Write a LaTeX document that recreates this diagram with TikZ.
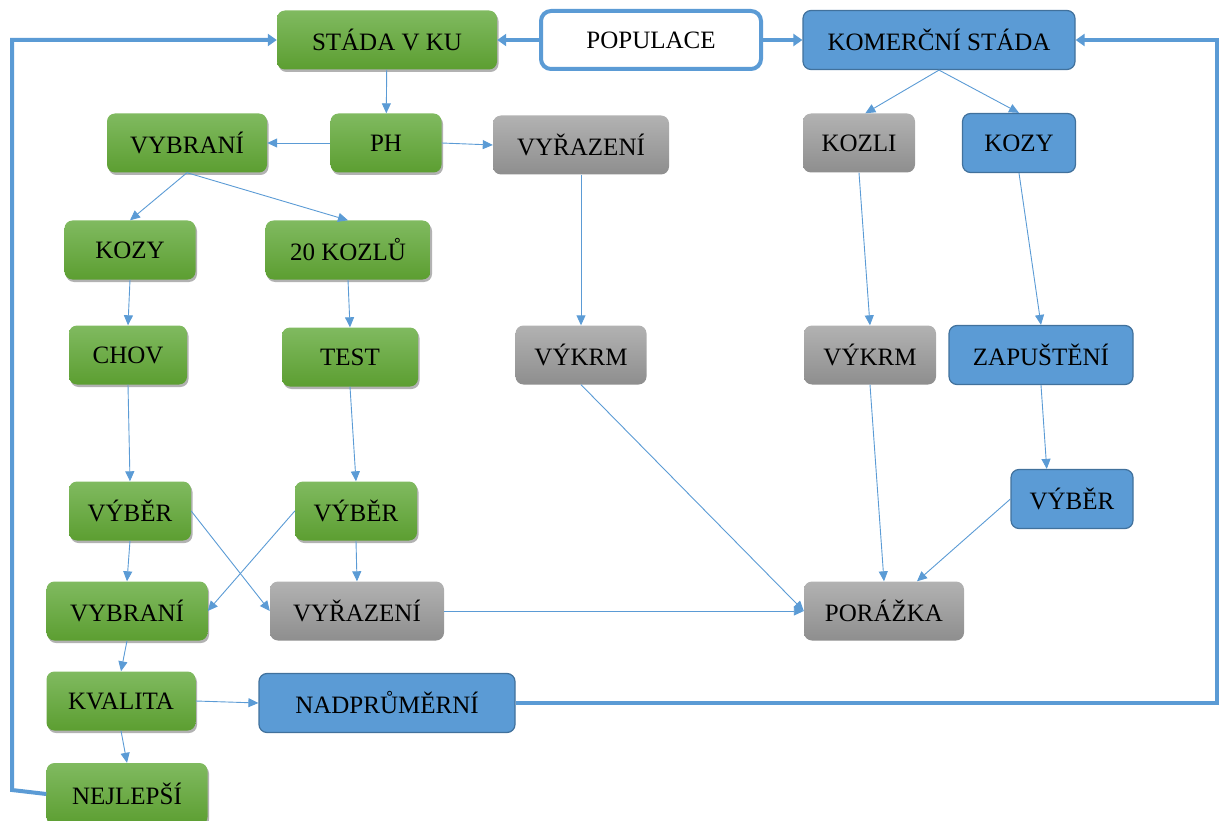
\documentclass[tikz,border=0pt]{standalone}
\usepackage{fontspec}
\setmainfont{Liberation Serif}
\usetikzlibrary{arrows.meta,shadows,calc}
\definecolor{lblue}{HTML}{5B9BD5}
\definecolor{dblue}{HTML}{41719C}
\definecolor{gtop}{HTML}{80BA60}
\definecolor{gbot}{HTML}{5C9E31}
\definecolor{ytop}{HTML}{B2B2B2}
\definecolor{ybot}{HTML}{8E8E8E}
\tikzset{
  base/.style={rounded corners=8pt, inner sep=0pt, minimum height=59pt, align=center,
    font=\fontsize{25}{29}\selectfont, text=black},
  gbox/.style={base, top color=gtop, bottom color=gbot, draw=none,
    drop shadow={shadow xshift=1.5pt, shadow yshift=-2.5pt, opacity=0.3, fill=black}},
  ybox/.style={base, top color=ytop, bottom color=ybot, draw=none},
  bbox/.style={base, fill=lblue, draw=dblue, line width=1.2pt},
  wbox/.style={base, fill=white, draw=lblue, line width=4pt, rounded corners=10pt},
  thin/.style={draw=lblue, line width=0.9pt, -{Triangle[length=10pt,width=9pt]}},
  thick/.style={draw=lblue, line width=4pt, -{Triangle[length=9pt,width=12pt]}}
}
\begin{document}
\begin{tikzpicture}[x=1pt,y=-1pt]
\useasboundingbox (0,0) rectangle (1226,821);
% nodes
\node[gbox, minimum width=220pt] (stada) at (387,40) {STÁDA V KU};
\node[wbox, minimum width=220pt, minimum height=58pt] (pop) at (651,40) {POPULACE};
\node[bbox, minimum width=272pt] (kom) at (939,40) {KOMERČNÍ STÁDA};
\node[gbox, minimum width=160pt] (vyb1) at (187,143) {VYBRANÍ};
\node[gbox, minimum width=111pt] (ph) at (386,143) {PH};
\node[ybox, minimum width=176pt] (vyr1) at (581,145) {VYŘAZENÍ};
\node[ybox, minimum width=112pt] (kozli) at (859,143) {KOZLI};
\node[bbox, minimum width=113pt] (kozyR) at (1019,143) {KOZY};
\node[gbox, minimum width=131pt] (kozyL) at (130,250) {KOZY};
\node[gbox, minimum width=165pt] (k20) at (348,250) {20 KOZLŮ};
\node[gbox, minimum width=118pt] (chov) at (128,355) {CHOV};
\node[gbox, minimum width=136pt] (test) at (350,357) {TEST};
\node[ybox, minimum width=131pt] (vykrm1) at (581,355) {VÝKRM};
\node[ybox, minimum width=132pt] (vykrm2) at (870,355) {VÝKRM};
\node[bbox, minimum width=184pt] (zap) at (1041,355) {ZAPUŠTĚNÍ};
\node[gbox, minimum width=122pt] (vyberL) at (130,511) {VÝBĚR};
\node[gbox, minimum width=122pt] (vyberM) at (356,511) {VÝBĚR};
\node[bbox, minimum width=122pt] (vyberR) at (1072,499) {VÝBĚR};
\node[gbox, minimum width=161pt] (vyb2) at (127,611) {VYBRANÍ};
\node[ybox, minimum width=174pt] (vyr2) at (357,611) {VYŘAZENÍ};
\node[ybox, minimum width=160pt] (por) at (884,611) {PORÁŽKA};
\node[gbox, minimum width=149pt] (kval) at (121,701) {KVALITA};
\node[bbox, minimum width=256pt] (nad) at (387,703) {NADPRŮMĚRNÍ};
\node[gbox, minimum width=161pt, minimum height=62pt] (nej) at (127,794) {NEJLEPŠÍ};
% loop corners
\coordinate (lb) at (12,790);
\coordinate (lt) at (12,40);
\coordinate (rb) at (1217,703);
\coordinate (rt) at (1217,40);
% thick connectors
\draw[thick] (pop) -- (stada);
\draw[thick] (pop) -- (kom);
\draw[thick] (nej.west) -- (lb) -- (lt) -- (stada.west);
\draw[thick] (nad.east) -- (rb) -- (rt) -- (kom.east);
% thin connectors
\draw[thin] (stada) -- (ph);
\draw[thin] (ph) -- (vyb1);
\draw[thin] (ph.east) -- (vyr1.west);
\draw[thin] (vyb1.south) -- (kozyL.north);
\draw[thin] (vyb1.south) -- (k20.north);
\draw[thin] (kozyL.south) -- (chov.north);
\draw[thin] (k20.south) -- (test.north);
\draw[thin] (chov.south) -- (vyberL.north);
\draw[thin] (test.south) -- (vyberM.north);
\draw[thin] (vyberL.south) -- (vyb2.north);
\draw[thin] (vyberL.east) -- (vyr2.west);
\draw[thin] (vyberM.west) -- (vyb2.east);
\draw[thin] (vyberM.south) -- (vyr2.north);
\draw[thin] (vyb2.south) -- (kval.north);
\draw[thin] (kval.south) -- (nej.north);
\draw[thin] (kval.east) -- (nad.west);
\draw[thin] (vyr2.east) -- (por.west);
\draw[thin] (vyr1.south) -- (vykrm1.north);
\draw[thin] (vykrm1.south) -- (por.west);
\draw[thin] (kom.south) -- (kozli.78);
\draw[thin] (kom.south) -- (kozyR.north);
\draw[thin] (kozli.south) -- (vykrm2.north);
\draw[thin] (kozyR.south) -- (zap.north);
\draw[thin] (vykrm2.south) -- (por.north);
\draw[thin] (zap.south) -- (vyberR.130);
\draw[thin] (vyberR.west) -- (por.42);
\end{tikzpicture}
\end{document}
